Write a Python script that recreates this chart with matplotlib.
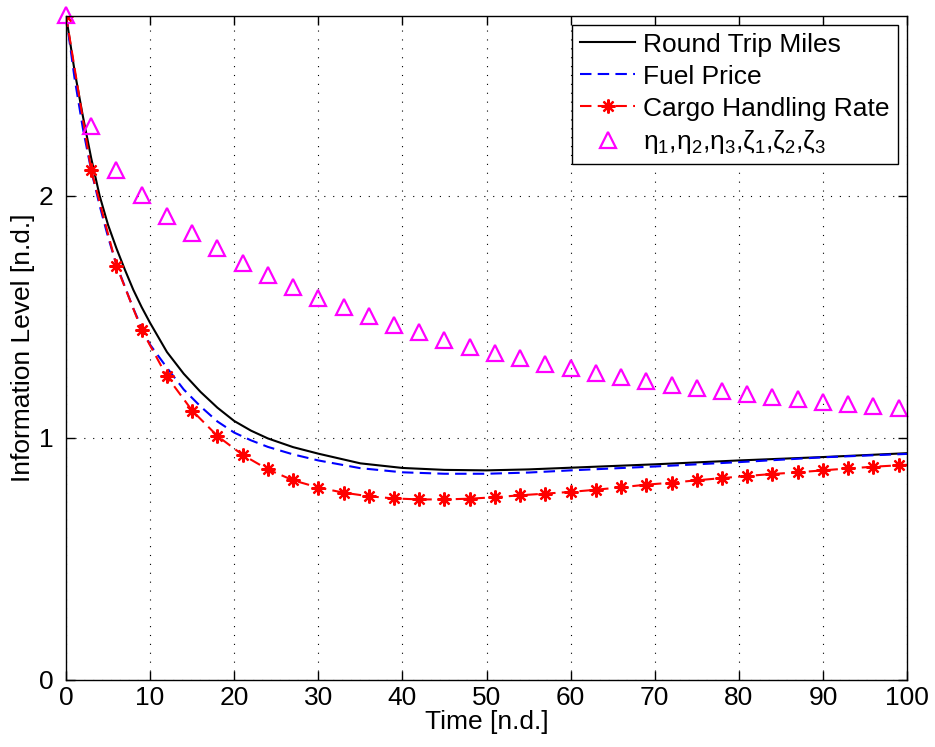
import numpy as np
import matplotlib
matplotlib.use("Agg")
import matplotlib.pyplot as plt

plt.rcParams["font.family"] = ["Liberation Sans", "DejaVu Sans"]
plt.rcParams["mathtext.fontset"] = "custom"
plt.rcParams["mathtext.rm"] = "Liberation Sans"
plt.rcParams["mathtext.it"] = "Liberation Sans:italic"

# Round Trip Miles (solid black)
miles_t = [0, 1, 2, 3, 4, 5, 6, 7, 8, 9, 10, 12, 14, 16, 18, 20, 22, 24, 27, 30,
           35, 40, 45, 50, 55, 60, 70, 80, 90, 100]
miles_v = [2.745, 2.52, 2.33, 2.155, 2.00, 1.88, 1.783, 1.695, 1.612, 1.54, 1.475,
           1.355, 1.265, 1.19, 1.125, 1.07, 1.03, 0.998, 0.962, 0.935,
           0.895, 0.876, 0.868, 0.866, 0.870, 0.877, 0.891, 0.907, 0.921, 0.937]

# Fuel Price (dashed blue)
fuel_t = [0, 1, 2, 3, 4, 5, 6, 7, 8, 9, 10, 12, 14, 16, 18, 20, 22, 24, 27, 30,
          35, 40, 45, 50, 55, 60, 70, 80, 90, 100]
fuel_v = [2.745, 2.49, 2.28, 2.105, 1.96, 1.83, 1.715, 1.625, 1.535, 1.455, 1.385,
          1.29, 1.20, 1.13, 1.068, 1.022, 0.99, 0.963, 0.932, 0.907,
          0.875, 0.858, 0.852, 0.852, 0.857, 0.866, 0.882, 0.900, 0.920, 0.934]

# Cargo Handling Rate (dashed red with asterisks every 3)
cargo_t = [0, 3, 6, 9, 12, 15, 18, 21, 24, 27, 30, 33, 36, 39, 42, 45, 48, 51,
           54, 57, 60, 63, 66, 69, 72, 75, 78, 81, 84, 87, 90, 93, 96, 99, 100]
cargo_v = [2.745, 2.106, 1.711, 1.446, 1.254, 1.113, 1.008, 0.930, 0.870, 0.825,
           0.795, 0.774, 0.759, 0.750, 0.746, 0.746, 0.749, 0.755, 0.763, 0.770,
           0.777, 0.786, 0.796, 0.807, 0.815, 0.825, 0.834, 0.843, 0.851, 0.858,
           0.866, 0.874, 0.881, 0.887, 0.889]

# eta/zeta parameters (magenta triangles)
param_t = [0, 3, 6, 9, 12, 15, 18, 21, 24, 27, 30, 33, 36, 39, 42, 45, 48, 51,
           54, 57, 60, 63, 66, 69, 72, 75, 78, 81, 84, 87, 90, 93, 96, 99]
param_v = [2.746, 2.289, 2.107, 2.004, 1.918, 1.847, 1.786, 1.724, 1.674, 1.625,
           1.579, 1.542, 1.505, 1.468, 1.439, 1.406, 1.377, 1.350, 1.329, 1.306,
           1.288, 1.269, 1.251, 1.234, 1.219, 1.206, 1.193, 1.181, 1.168, 1.159,
           1.148, 1.139, 1.130, 1.122]

fig = plt.figure(figsize=(9.35, 7.47), dpi=100)
ax = fig.add_axes([0.0706, 0.0897, 0.8995, 0.8895])

ax.plot(miles_t, miles_v, color="black", lw=1.5, label="Round Trip Miles")
ax.plot(fuel_t, fuel_v, color="blue", lw=1.5, dashes=(5.5, 3), label="Fuel Price")
ax.plot(cargo_t, cargo_v, color="red", lw=1.5, dashes=(5.5, 3),
        marker=(8, 2, 0), markersize=10, markeredgewidth=1.6,
        markevery=list(range(len(cargo_t) - 1)), label="Cargo Handling Rate")
ax.plot(param_t, param_v, linestyle="none", marker="^", markersize=11,
        markerfacecolor="none", markeredgecolor="magenta", markeredgewidth=1.6,
        clip_on=False, label="η$_1$,η$_2$,η$_3$,ζ$_1$,ζ$_2$,ζ$_3$")

ax.set_xlim(0, 100)
ax.set_ylim(0, 2.745)
ax.set_xticks(np.arange(0, 101, 10))
ax.set_yticks([0, 1, 2])
ax.tick_params(direction="in", length=6.5, width=1.0, labelsize=19,
               top=True, right=True, pad=4)
ax.tick_params(axis="y", pad=9)
ax.grid(True, color="black", linestyle=(0, (1, 7)), lw=0.8)
for s in ax.spines.values():
    s.set_linewidth(1.0)

ax.set_xlabel("Time [n.d.]", fontsize=19, labelpad=0)
ax.set_ylabel("Information Level [n.d.]", fontsize=19, labelpad=3)

leg = ax.legend(loc="upper right", fontsize=19, handlelength=2.1,
                handletextpad=0.3, borderpad=0.3, labelspacing=0.3,
                borderaxespad=0.35, fancybox=False, framealpha=1)
leg.get_frame().set_edgecolor("black")
leg.get_frame().set_linewidth(1.0)

fig.savefig("out.png", dpi=100)
